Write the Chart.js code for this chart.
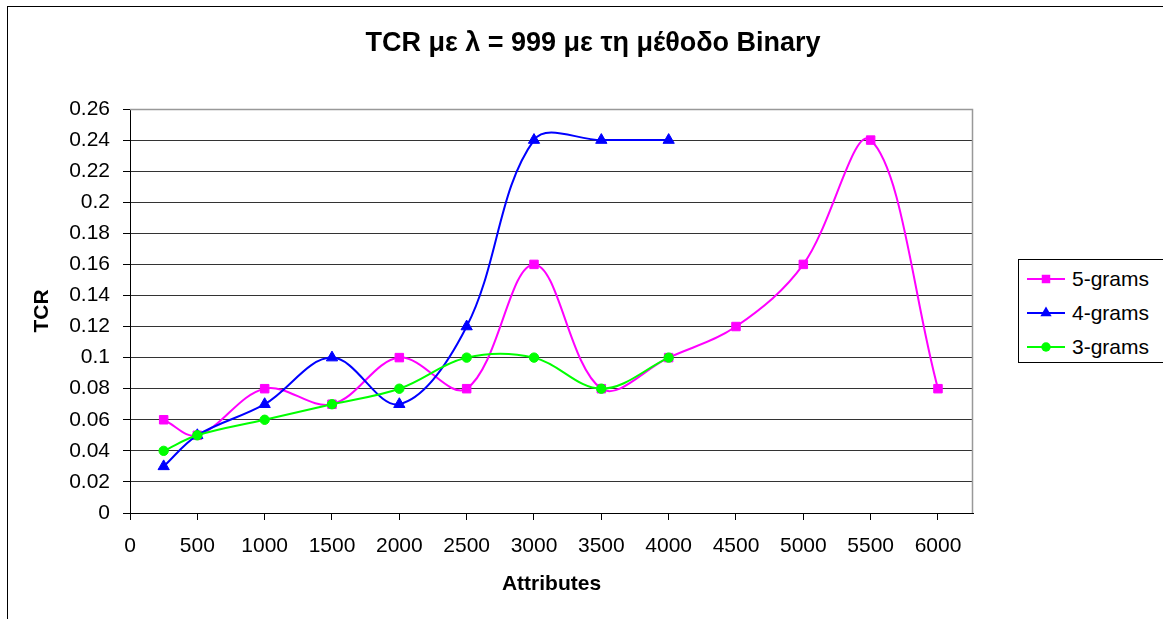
<!DOCTYPE html>
<html>
<head>
<meta charset="utf-8">
<script src="https://cdn.jsdelivr.net/npm/chart.js@4"></script>
<style>
  html, body { margin: 0; padding: 0; background: #fff; overflow: hidden; }
  #marco { position: absolute; left: 7px; top: 6px; width: 1300px; height: 700px;
           border-left: 1px solid #000; border-top: 1px solid #000; }
  #lienzo { position: absolute; left: 0; top: 0; }
  #leyenda { position: absolute; left: 1018px; top: 259px; width: 150px; height: 102px;
             border: 1px solid #000; background: #fff; font: 21px "Liberation Sans", Arial, sans-serif; }
  .muestra { position: absolute; left: 8px; }
  .texto { position: absolute; left: 53px; line-height: 24px; color: #000; white-space: nowrap; }
</style>
</head>
<body>
<div id="marco"></div>
<canvas id="lienzo" width="1163" height="619"></canvas>
<div id="leyenda"></div>
<script>
// Datos
const attrs5 = [250, 500, 1000, 1500, 2000, 2500, 3000, 3500, 4000, 4500, 5000, 5500, 6000];
const tcr5   = [0.06, 0.05, 0.08, 0.07, 0.10, 0.08, 0.16, 0.08, 0.10, 0.12, 0.16, 0.24, 0.08];
const attrs4 = [250, 500, 1000, 1500, 2000, 2500, 3000, 3500, 4000];
const tcr4   = [0.03, 0.05, 0.07, 0.10, 0.07, 0.12, 0.24, 0.24, 0.24];
const attrs3 = [250, 500, 1000, 1500, 2000, 2500, 3000, 3500, 4000];
const tcr3   = [0.04, 0.05, 0.06, 0.07, 0.08, 0.10, 0.10, 0.08, 0.10];
const xTicks = [0, 500, 1000, 1500, 2000, 2500, 3000, 3500, 4000, 4500, 5000, 5500, 6000];

const TITULO = 'TCR με λ = 999 με τη μέθοδο Binary';
const FUENTE = '"Liberation Sans", Arial, sans-serif';

const pares = (xs, ys) => xs.map((x, i) => ({ x, y: ys[i] }));

const series = [
  { label: '5-grams', xs: attrs5, ys: tcr5, color: '#ff00ff', punto: 'rect',     radio: 6,   orden: 3 },
  { label: '4-grams', xs: attrs4, ys: tcr4, color: '#0000ff', punto: 'triangle', radio: 6.5, orden: 2 },
  { label: '3-grams', xs: attrs3, ys: tcr3, color: '#00ff00', punto: 'circle',   radio: 4.7, orden: 1 },
];

// Borde gris arriba y a la derecha del área de trazado, como en Excel
const bordeArea = {
  id: 'bordeArea',
  beforeDatasetsDraw(chart) {
    const { ctx, chartArea: a } = chart;
    ctx.save();
    ctx.strokeStyle = '#999';
    ctx.lineWidth = 1.5;
    ctx.beginPath();
    ctx.moveTo(a.left, a.top + 0.5);
    ctx.lineTo(a.right - 0.5, a.top + 0.5);
    ctx.lineTo(a.right - 0.5, a.bottom);
    ctx.stroke();
    ctx.restore();
  },
};

// El título de Excel va centrado sobre todo el marco (incluida la leyenda),
// no sobre el área que le deja Chart.js: se dibuja aparte.
const titulo = {
  id: 'titulo',
  afterDraw(chart) {
    const { ctx } = chart;
    ctx.save();
    ctx.fillStyle = '#000';
    ctx.font = 'bold 27px ' + FUENTE;
    ctx.textAlign = 'center';
    ctx.textBaseline = 'middle';
    ctx.fillText(TITULO, 593, 44);
    ctx.restore();
  },
};

new Chart(document.getElementById('lienzo'), {
  type: 'line',
  data: {
    datasets: series.map((s) => ({
      label: s.label,
      data: pares(s.xs, s.ys),
      borderColor: s.color,
      backgroundColor: s.color,
      borderWidth: 2,
      pointStyle: s.punto,
      pointRadius: s.radio,
      pointBorderWidth: 1,
      tension: 0.36,
      fill: false,
      order: s.orden,
    })),
  },
  options: {
    responsive: false,
    animation: false,
    layout: { padding: { left: 20, right: 190, top: 109, bottom: 0 } },
    plugins: {
      legend: { display: false },
      tooltip: { enabled: false },
      title: { display: false },
    },
    scales: {
      x: {
        type: 'linear',
        min: 0,
        max: 6260,
        afterBuildTicks: (eje) => { eje.ticks = xTicks.map((v) => ({ value: v })); },
        afterFit: (eje) => { eje.height = 106; },
        border: { color: '#000', width: 1 },
        grid: { drawOnChartArea: false, drawTicks: true, tickLength: 7, tickColor: '#000' },
        ticks: { color: '#000', padding: 14, maxRotation: 0, autoSkip: false,
                 font: { family: FUENTE, size: 21 },
                 callback: (v) => String(v) },
        title: { display: true, text: 'Attributes', color: '#000',
                 font: { family: FUENTE, size: 21, weight: 'bold', lineHeight: 1.2 },
                 padding: { top: 0, bottom: 22 } },
      },
      y: {
        min: 0,
        max: 0.26,
        afterFit: (eje) => { eje.width = 110; },
        border: { color: '#000', width: 1 },
        grid: { color: '#333', tickLength: 7, tickColor: '#000' },
        ticks: { color: '#000', stepSize: 0.02, padding: 13,
                 font: { family: FUENTE, size: 21 },
                 callback: (v) => String(Math.round(v * 100) / 100) },
        title: { display: true, text: 'TCR', color: '#000',
                 font: { family: FUENTE, size: 21, weight: 'bold', lineHeight: 1.2 },
                 padding: { top: 10, bottom: 0 } },
      },
    },
  },
  plugins: [bordeArea, titulo],
});

// Leyenda en HTML con los mismos colores y marcadores
const leyenda = document.getElementById('leyenda');
series.forEach((s, i) => {
  const y = 7 + i * 34;
  const c = document.createElement('canvas');
  c.className = 'muestra';
  c.width = 38; c.height = 24;
  c.style.top = y + 'px';
  const g = c.getContext('2d');
  g.strokeStyle = s.color; g.lineWidth = 2;
  g.beginPath(); g.moveTo(0, 12); g.lineTo(38, 12); g.stroke();
  g.fillStyle = s.color;
  g.beginPath();
  if (s.punto === 'rect') { const h = s.radio * Math.SQRT1_2; g.rect(19 - h, 12 - h, 2 * h, 2 * h); }
  else if (s.punto === 'triangle') {
    g.moveTo(19, 12 - s.radio);
    g.lineTo(19 + s.radio * Math.sin(Math.PI / 3), 12 + s.radio / 2);
    g.lineTo(19 - s.radio * Math.sin(Math.PI / 3), 12 + s.radio / 2);
    g.closePath();
  } else { g.arc(19, 12, s.radio, 0, Math.PI * 2); }
  g.fill();
  const t = document.createElement('div');
  t.className = 'texto';
  t.style.top = y + 'px';
  t.textContent = s.label;
  leyenda.appendChild(c);
  leyenda.appendChild(t);
});
</script>
</body>
</html>
